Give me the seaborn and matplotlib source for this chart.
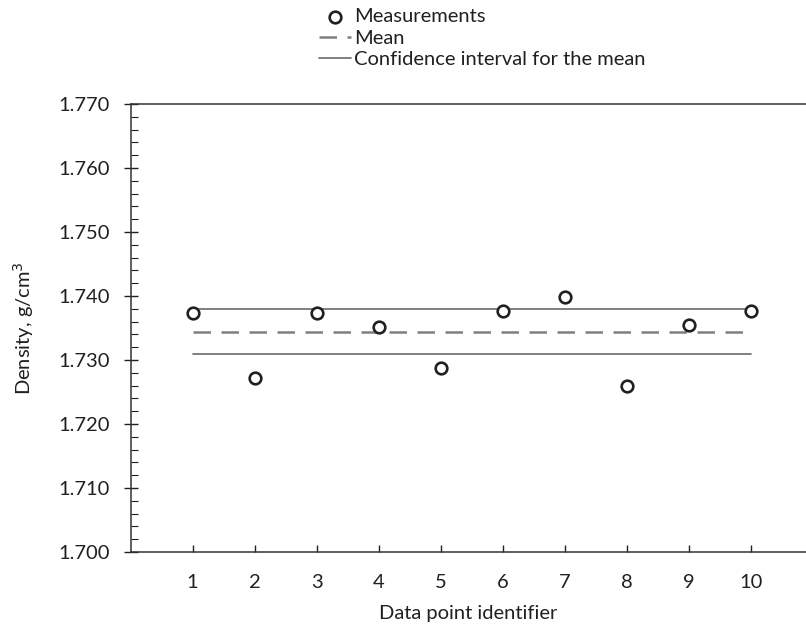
import pandas as pd
import matplotlib.pyplot as plt
import matplotlib.ticker as mticker
import seaborn as sns

# Data
point_id = [1, 2, 3, 4, 5, 6, 7, 8, 9, 10]
density = [1.7374, 1.7272, 1.7374, 1.7351, 1.7287, 1.7377, 1.7398, 1.7259, 1.7354, 1.7377]
mean_value = 1.7344
ci_low = 1.7309
ci_high = 1.7379

sns.set_style("ticks")
plt.rcParams['font.family'] = ['Lato', 'DejaVu Sans']
plt.rcParams['font.size'] = 14.5
plt.rcParams['text.color'] = '#231f20'
plt.rcParams['axes.labelcolor'] = '#231f20'
plt.rcParams['xtick.color'] = '#231f20'
plt.rcParams['ytick.color'] = '#231f20'

df = pd.DataFrame({'id': point_id, 'density': density})
line_x = [point_id[0], point_id[-1]]
lines = pd.DataFrame({'id': line_x, 'mean': [mean_value] * 2,
                      'lo': [ci_low] * 2, 'hi': [ci_high] * 2})

fig = plt.figure(figsize=(8.06, 6.26), dpi=100)
ax = fig.add_axes([130.5 / 806, 74 / 626, (806 - 130.5) / 806, 448 / 626])

# Mean and confidence interval
sns.lineplot(data=lines, x='id', y='hi', ax=ax, color='#767676', lw=1.3,
             label='Confidence interval for the mean')
sns.lineplot(data=lines, x='id', y='lo', ax=ax, color='#767676', lw=1.3)
sns.lineplot(data=lines, x='id', y='mean', ax=ax, color='#808080', lw=1.8,
             label='Mean')
ax.lines[-1].set_dashes([7, 4.2])

# Measurements
sns.scatterplot(data=df, x='id', y='density', ax=ax, s=70, marker='o',
                facecolor='white', edgecolor='#231f20', linewidth=1.9,
                label='Measurements', zorder=5)

ax.set_xlim(0, 10.88)
ax.set_ylim(1.700, 1.770)
ax.set_xticks(point_id)
ax.yaxis.set_major_locator(mticker.MultipleLocator(0.01))
ax.yaxis.set_minor_locator(mticker.MultipleLocator(0.002))
ax.yaxis.set_major_formatter(mticker.FormatStrFormatter('%.3f'))
ax.tick_params(axis='y', which='major', direction='inout', length=10, width=1, pad=10)
ax.tick_params(axis='y', which='minor', direction='in', length=5, width=0.8)
ax.tick_params(axis='x', which='major', direction='in', length=5, width=1, pad=16)

for side in ['left', 'bottom', 'top']:
    ax.spines[side].set_color('#333333')
    ax.spines[side].set_linewidth(1.1)
ax.spines['right'].set_visible(False)

ax.set_xlabel('Data point identifier', labelpad=10)
ax.set_ylabel('Density, g/cm$^3$', labelpad=16)

# Legend above the plot, in the reference's order
handles, labels = ax.get_legend_handles_labels()
order = [labels.index('Measurements'), labels.index('Mean'),
         labels.index('Confidence interval for the mean')]
ax.legend([handles[i] for i in order], [labels[i] for i in order],
          loc='upper left', bbox_to_anchor=(315 / 806, 1 - 4 / 626),
          bbox_transform=fig.transFigure, frameon=False,
          handlelength=1.6, handletextpad=0.15, labelspacing=0.22,
          borderpad=0.2, borderaxespad=0)

fig.savefig('out.png', dpi=100)
